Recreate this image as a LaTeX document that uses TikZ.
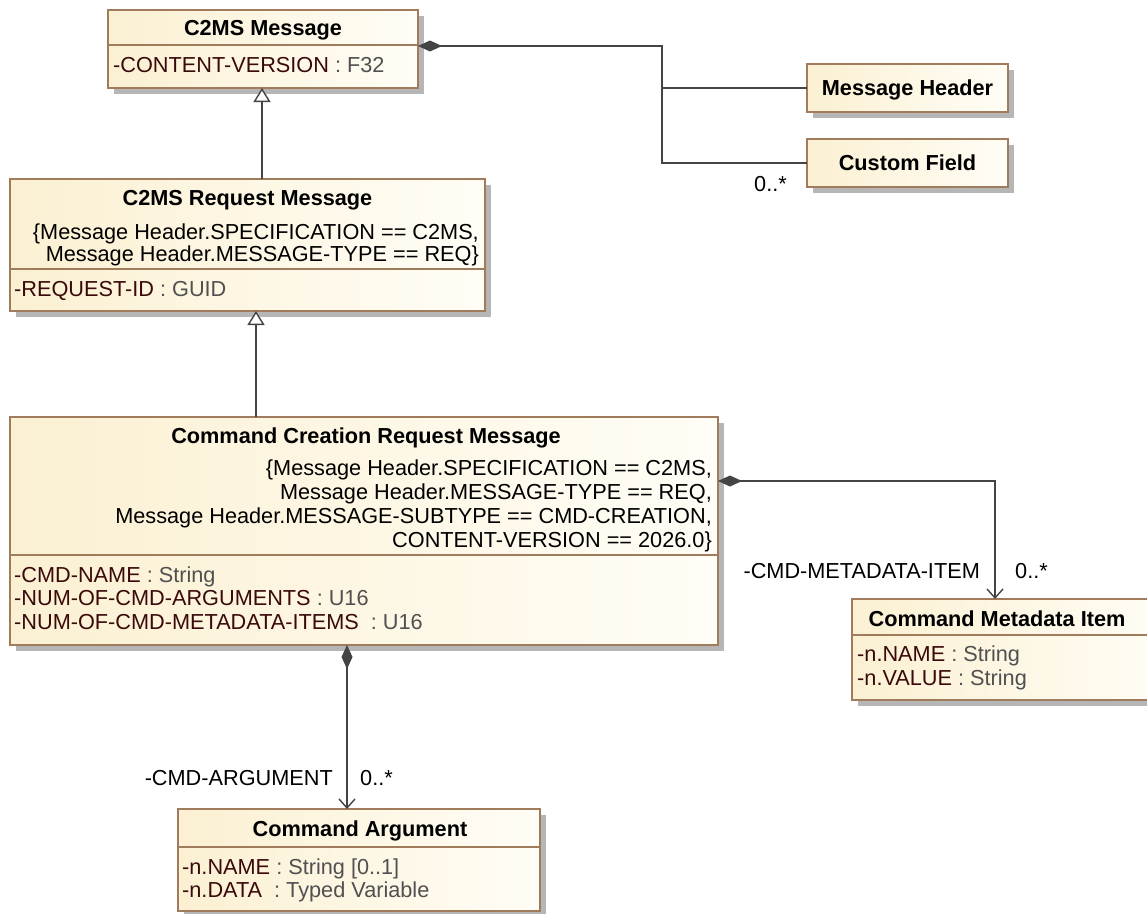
\documentclass[tikz,border=0pt]{standalone}
\usepackage{fontspec}
\setmainfont{Liberation Sans}
\usetikzlibrary{arrows.meta,shadows,calc}
\definecolor{boxb}{RGB}{160,124,92}
\definecolor{creamL}{RGB}{251,240,210}
\definecolor{creamR}{RGB}{255,253,246}
\definecolor{lnc}{RGB}{68,68,68}
\definecolor{nmc}{RGB}{58,10,10}
\definecolor{tyc}{RGB}{80,80,80}
\definecolor{shc}{RGB}{182,182,182}
\newcommand{\nm}[1]{\textcolor{nmc}{#1}}
\newcommand{\aty}[1]{\textcolor{tyc}{#1}}
\begin{document}
\begin{tikzpicture}[x=1pt,y=-1pt,
  every node/.style={font=\fontsize{21.7}{23.5}\selectfont},
  cls/.style={draw=boxb, line width=1.4pt, left color=creamL, right color=creamR,
    anchor=north west, inner sep=0pt, outer sep=0pt,
    drop shadow={shadow xshift=6pt, shadow yshift=-6pt, fill=shc, opacity=1}},
  sepline/.style={draw=boxb, line width=1.4pt},
  ttl/.style={anchor=base, inner sep=0pt, font=\fontsize{21.7}{23.5}\selectfont\bfseries},
  lt/.style={anchor=base west, inner sep=0pt},
  rt/.style={anchor=base east, inner sep=0pt},
  conn/.style={draw=lnc, line width=1.6pt},
  gen/.style={conn, -{Triangle[length=14pt,width=17pt,fill=white,line width=1.4pt]}},
  comp/.style={conn, {Diamond[length=24pt,width=11pt]}-},
  compnav/.style={conn, {Diamond[length=24pt,width=11pt]}-{Straight Barb[length=9pt,width=16pt,line width=1.4pt]}}
]
\useasboundingbox (0,0) rectangle (1147,913);
\clip (0,0) rectangle (1147,913);

% ---- C2MS Message
\node[cls, minimum width=310pt, minimum height=78pt] (c2ms) at (108,10) {};
\draw[sepline] (108,45) -- (418,45);
\node[ttl] (c2msT) at (263,35.8) {C2MS Message};
\node[lt] (c2msA) at (113,72) {\nm{-CONTENT-VERSION} \aty{: F32}};

% ---- Message Header / Custom Field
\node[cls, minimum width=201pt, minimum height=48pt] (mh) at (807,64) {};
\node[ttl] (mhT) at (907.5,95.8) {Message Header};
\node[cls, minimum width=201pt, minimum height=48pt] (cf) at (807,139) {};
\node[ttl] (cfT) at (907.5,170.8) {Custom Field};

% ---- C2MS Request Message
\node[cls, minimum width=475pt, minimum height=132pt] (req) at (10,179) {};
\draw[sepline] (10,269) -- (485,269);
\node[ttl] (reqT) at (247.5,205.8) {C2MS Request Message};
\node[rt] (reqC1) at (479,239) {\{Message Header.SPECIFICATION == C2MS,};
\node[rt] (reqC2) at (479,261.5) {Message Header.MESSAGE-TYPE == REQ\}};
\node[lt] (reqA) at (14,296) {\nm{-REQUEST-ID} \aty{: GUID}};

% ---- Command Creation Request Message
\node[cls, minimum width=708pt, minimum height=228pt] (ccr) at (10,417) {};
\draw[sepline] (10,555) -- (718,555);
\node[ttl] (ccrT) at (366,443) {Command Creation Request Message};
\node[rt] (ccrC1) at (712,475) {\{Message Header.SPECIFICATION == C2MS,};
\node[rt] (ccrC2) at (712,499) {Message Header.MESSAGE-TYPE == REQ,\hspace{6pt}};
\node[rt] (ccrC3) at (712,523) {Message Header.MESSAGE-SUBTYPE == CMD-CREATION,};
\node[rt] (ccrC4) at (712,547) {CONTENT-VERSION == 2026.0\}};
\node[lt] (ccrA1) at (14,582) {\nm{-CMD-NAME} \aty{: String}};
\node[lt] (ccrA2) at (14,605.5) {\nm{-NUM-OF-CMD-ARGUMENTS} \aty{: U16}};
\node[lt] (ccrA3) at (14,629) {\nm{-NUM-OF-CMD-METADATA-ITEMS}\hspace{12pt}\aty{: U16}};

% ---- Command Metadata Item
\node[cls, minimum width=320pt, minimum height=101pt] (cmi) at (852,599) {};
\draw[sepline] (852,635) -- (1172,635);
\node[ttl] (cmiT) at (997,626) {Command Metadata Item};
\node[lt] (cmiA1) at (857,661) {\nm{-n.NAME} \aty{: String}};
\node[lt] (cmiA2) at (857,685) {\nm{-n.VALUE} \aty{: String}};

% ---- Command Argument
\node[cls, minimum width=362pt, minimum height=102pt] (arg) at (178,809) {};
\draw[sepline] (178,847) -- (540,847);
\node[ttl] (argT) at (360,836) {Command Argument};
\node[lt] (argA1) at (182,874) {\nm{-n.NAME} \aty{: String [0..1]}};
\node[lt] (argA2) at (182,897) {\nm{-n.DATA}\hspace{12pt}\aty{: Typed Variable}};

% ---- connectors
\draw[gen] ($(req.north west)+(252,0)$) coordinate (g1s) -- (g1s |- c2ms.south);
\draw[gen] ($(ccr.north west)+(246,0)$) coordinate (g2s) -- (g2s |- req.south);

\coordinate (j1) at (662,46);
\draw[comp] ($(c2ms.north east)+(0,36)$) coordinate (d1) -- (d1 -| j1) |- (mh.west);
\draw[conn] (d1 -| j1) |- (cf.west);
\node[rt] (m1) at (787,191) {0..*};

\draw[compnav] ($(ccr.south west)+(337,0)$) coordinate (d2) -- (d2 |- arg.north);
\node[rt] (r2) at (333,785) {-CMD-ARGUMENT};
\node[lt] (m2) at (360,785) {0..*};

\coordinate (j3) at (995,481);
\draw[compnav] ($(ccr.north east)+(0,64)$) coordinate (d3) -- (d3 -| j3) -- (j3 |- cmi.north);
\node[rt] (r3) at (980,578) {-CMD-METADATA-ITEM};
\node[lt] (m3) at (1015,578) {0..*};
\end{tikzpicture}
\end{document}
